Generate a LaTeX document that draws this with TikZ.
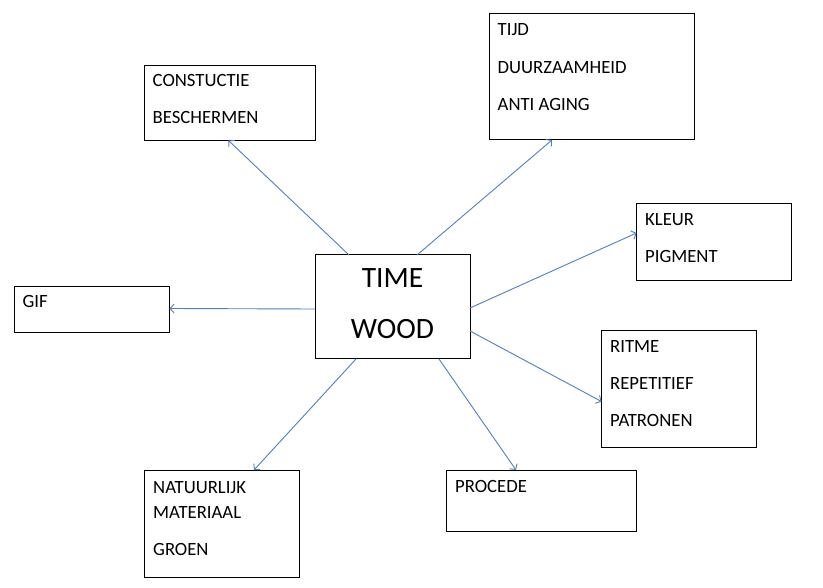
\documentclass[tikz,border=0pt]{standalone}
\usepackage{fontspec}
\setmainfont{Carlito}
\usetikzlibrary{arrows.meta}
\definecolor{arrowblue}{HTML}{4F81BD}
\tikzset{
  x=1pt, y=-1pt,
  box/.style={draw=black, line width=1pt, rectangle, anchor=north west, inner sep=0pt, outer sep=0pt},
  lbl/.style={anchor=base west, inner sep=0pt, font=\fontsize{18.7}{21}\selectfont},
  big/.style={anchor=base, inner sep=0pt, font=\fontsize{29.5}{33}\selectfont},
  conn/.style={draw=arrowblue, line width=0.9pt, -{Straight Barb[length=4pt,width=9pt]}}
}
\begin{document}
\begin{tikzpicture}
\useasboundingbox[fill=white] (0,0) rectangle (823,588);
% boxes
\node[box, minimum width=155pt, minimum height=104pt] (tw) at (315,255) {};
\node[box, minimum width=171pt, minimum height=75pt] (cons) at (144.5,65.5) {};
\node[box, minimum width=205pt, minimum height=126pt] (tijd) at (489,14) {};
\node[box, minimum width=155pt, minimum height=77pt] (kleur) at (636.5,204) {};
\node[box, minimum width=155pt, minimum height=46pt] (gif) at (14.5,286.5) {};
\node[box, minimum width=155pt, minimum height=117pt] (ritme) at (601.5,330.5) {};
\node[box, minimum width=190pt, minimum height=61pt] (proc) at (446.5,470) {};
\node[box, minimum width=155pt, minimum height=107pt] (nat) at (144.5,470) {};
% texts
\node[big] (t1) at (392.5,288) {TIME};
\node[big] (t2) at (392.5,339) {WOOD};
\node[lbl] (c1) at (152.5,87) {CONSTUCTIE};
\node[lbl] (c2) at (152.5,124) {BESCHERMEN};
\node[lbl] (j1) at (497.5,36) {TIJD};
\node[lbl] (j2) at (497.5,74) {DUURZAAMHEID};
\node[lbl] (j3) at (497.5,111) {ANTI AGING};
\node[lbl] (k1) at (645,226) {KLEUR};
\node[lbl] (k2) at (645,263) {PIGMENT};
\node[lbl] (g1) at (22.5,308) {GIF};
\node[lbl] (r1) at (610,352.5) {RITME};
\node[lbl] (r2) at (610,390) {REPETITIEF};
\node[lbl] (r3) at (610,427) {PATRONEN};
\node[lbl] (p1) at (455,492) {PROCEDE};
\node[lbl] (n1) at (153,493) {NATUURLIJK};
\node[lbl] (n2) at (153,518) {MATERIAAL};
\node[lbl] (n3) at (153,555) {GROEN};
% connectors
\draw[conn] ([xshift=34pt]tw.north west) -- ([xshift=84pt]cons.south west);
\draw[conn] ([xshift=102pt]tw.north west) -- ([xshift=63pt]tijd.south west);
\draw[conn] ([yshift=-53pt]tw.north east) -- ([yshift=-29pt]kleur.north west);
\draw[conn] ([yshift=-54pt]tw.north west) -- ([yshift=-22pt]gif.north east);
\draw[conn] ([yshift=-76pt]tw.north east) -- ([yshift=-71pt]ritme.north west);
\draw[conn] ([xshift=124pt]tw.south west) -- ([xshift=69.5pt]proc.north west);
\draw[conn] ([xshift=41pt]tw.south west) -- ([xshift=109.5pt]nat.north west);
\end{tikzpicture}
\end{document}
